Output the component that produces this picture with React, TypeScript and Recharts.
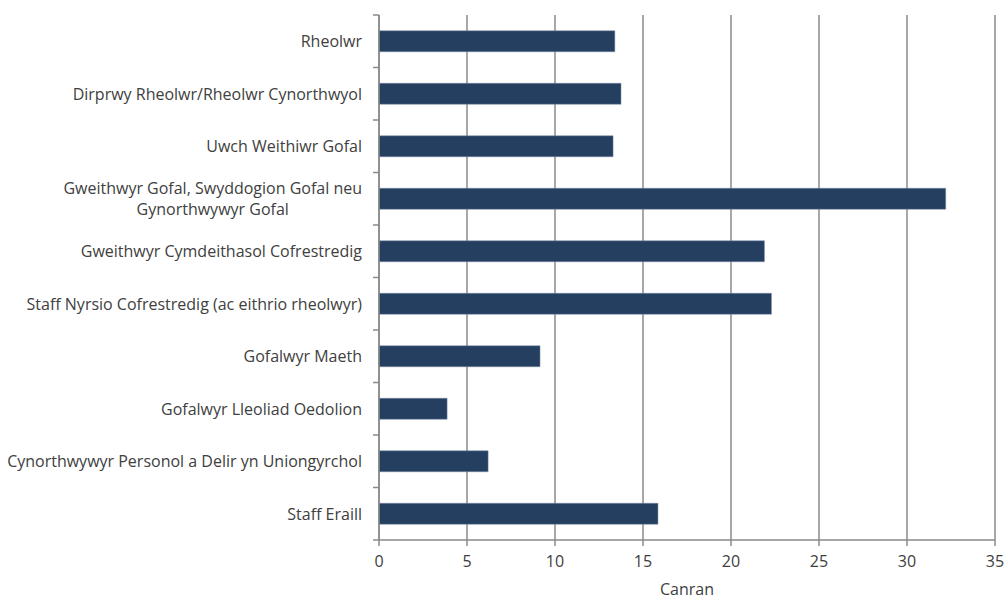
import React from "react";
import { BarChart, Bar, XAxis, YAxis, CartesianGrid } from "recharts";

const categories = [
  "Rheolwr",
  "Dirprwy Rheolwr/Rheolwr Cynorthwyol",
  "Uwch Weithiwr Gofal",
  "Gweithwyr Gofal, Swyddogion Gofal neu Gynorthwywyr Gofal",
  "Gweithwyr Cymdeithasol Cofrestredig",
  "Staff Nyrsio Cofrestredig (ac eithrio rheolwyr)",
  "Gofalwyr Maeth",
  "Gofalwyr Lleoliad Oedolion",
  "Cynorthwywyr Personol a Delir yn Uniongyrchol",
  "Staff Eraill",
];
const values = [13.4, 13.75, 13.3, 32.2, 21.9, 22.3, 9.15, 3.87, 6.2, 15.85];
const xTicks = [0, 5, 10, 15, 20, 25, 30, 35];

const data = categories.map((c, i) => ({ name: c, value: values[i] }));

const FONT = "'Segoe UI', 'Open Sans', 'Noto Sans', sans-serif";
const TEXT = "#404040";
const GRID = "#8a8a8a";
const TOP = 15;
const BOTTOM = 540;
const AXIS_X = 379;
const BAND = (BOTTOM - TOP) / categories.length;
const LINE_H = 21;
const FONT_SIZE = 16;

function wrapLabel(s: string): string[] {
  if (s.length <= 50) return [s];
  const words = s.split(" ");
  const lines: string[] = [];
  let cur = "";
  for (const w of words) {
    const next = cur ? cur + " " + w : w;
    if (next.length > 40 && cur) {
      lines.push(cur);
      cur = w;
    } else cur = next;
  }
  if (cur) lines.push(cur);
  return lines;
}

let ctx: CanvasRenderingContext2D | null = null;
function measure(s: string): number {
  if (typeof document === "undefined") return s.length * 8;
  if (!ctx) {
    const c = document.createElement("canvas");
    ctx = c.getContext("2d");
  }
  if (!ctx) return s.length * 8;
  ctx.font = `${FONT_SIZE}px ${FONT}`;
  return ctx.measureText(s).width;
}

const YTick = (props: any) => {
  const { x, y, payload, index } = props;
  const lines = wrapLabel(String(payload.value));
  const startY = y - ((lines.length - 1) * LINE_H) / 2;
  const maxW = Math.max(...lines.map(measure));
  const cx = lines.length > 1 ? x - maxW / 2 : x;
  return (
    <g>
      <text
        x={cx}
        y={startY}
        textAnchor={lines.length > 1 ? "middle" : "end"}
        fontSize={FONT_SIZE}
        fontFamily={FONT}
        fill={TEXT}
        dominantBaseline="central"
      >
        {lines.map((l, i) => (
          <tspan key={i} x={cx} dy={i === 0 ? 0 : LINE_H}>
            {l}
          </tspan>
        ))}
      </text>
      <line x1={AXIS_X - 6} x2={AXIS_X} y1={y - BAND / 2} y2={y - BAND / 2} stroke={GRID} strokeWidth={1.5} />
      {index === categories.length - 1 ? (
        <line x1={AXIS_X - 6} x2={AXIS_X} y1={y + BAND / 2} y2={y + BAND / 2} stroke={GRID} strokeWidth={1.5} />
      ) : null}
    </g>
  );
};

export default function App() {
  return (
    <div style={{ position: "absolute", left: 0, top: 0, width: 1006, height: 600, background: "#fff" }}>
      <BarChart
        width={1006}
        height={600}
        data={data}
        layout="vertical"
        margin={{ top: TOP, right: 11, bottom: 0, left: 0 }}
        barCategoryGap="30%"
      >
        <CartesianGrid horizontal={false} vertical={true} stroke={GRID} strokeWidth={1.5} />
        <XAxis
          type="number"
          domain={[0, 35]}
          ticks={xTicks}
          interval={0}
          height={60}
          axisLine={{ stroke: GRID, strokeWidth: 1.5 }}
          tickLine={{ stroke: GRID, strokeWidth: 1.5 }}
          tickSize={6}
          tickMargin={10}
          tick={{ fontSize: FONT_SIZE, fontFamily: FONT, fill: TEXT }}
          label={{ value: "Canran", position: "insideBottom", offset: 5, fontSize: FONT_SIZE, fontFamily: FONT, fill: TEXT }}
        />
        <YAxis
          type="category"
          dataKey="name"
          width={AXIS_X}
          axisLine={{ stroke: GRID, strokeWidth: 1.5 }}
          tickLine={false}
          tickMargin={17}
          tickSize={0}
          interval={0}
          tick={<YTick />}
        />
        <Bar dataKey="value" fill="#243F60" stroke="#7f8fa6" strokeWidth={0.5} isAnimationActive={false} />
      </BarChart>
    </div>
  );
}
